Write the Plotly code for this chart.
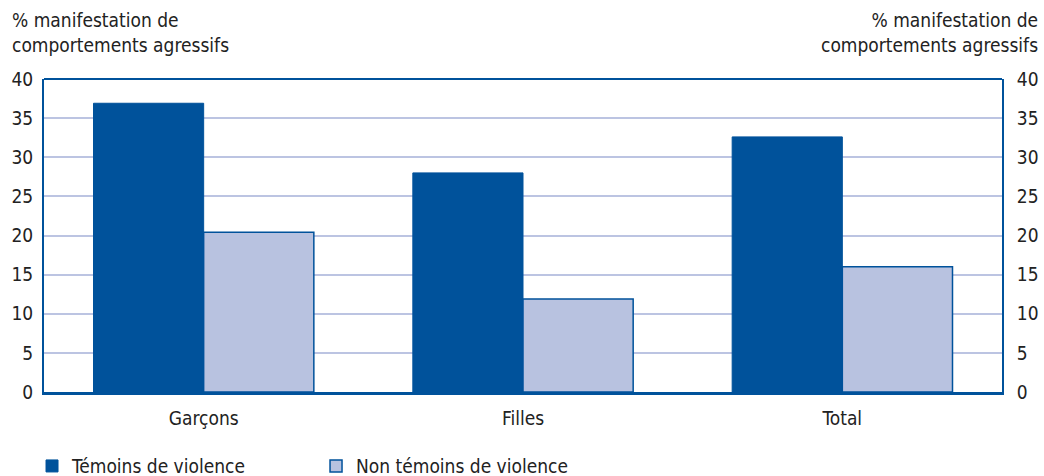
import plotly.graph_objects as go

categories = ["Garçons", "Filles", "Total"]
temoins = [36.9, 28.0, 32.6]
non_temoins = [20.4, 11.9, 16.0]
y_ticks = [0, 5, 10, 15, 20, 25, 30, 35, 40]
y_title = "% manifestation de<br>comportements agressifs"
series_names = ["Témoins de violence", "Non témoins de violence"]

FONT = "Liberation Sans Narrow, DejaVu Sans Condensed, Liberation Sans, sans-serif"
DARK = "#00529b"
LIGHT = "#b8c2e0"
GRID = "#bcc4e2"
TXT = "#222222"

fig = go.Figure()
fig.add_trace(go.Bar(x=categories, y=temoins, name=series_names[0],
                     marker=dict(color=DARK, line=dict(color=DARK, width=1))))
fig.add_trace(go.Bar(x=categories, y=non_temoins, name=series_names[1],
                     marker=dict(color=LIGHT, line=dict(color=DARK, width=1.5))))
# invisible trace to drive right axis
fig.add_trace(go.Scatter(x=categories, y=temoins, yaxis="y2", mode="markers",
                         marker=dict(opacity=0), showlegend=False, hoverinfo="skip"))

fig.update_layout(
    width=1044, height=476,
    margin=dict(l=44, r=42, t=79, b=84, autoexpand=False),
    paper_bgcolor="white", plot_bgcolor="white",
    barmode="group", bargap=0.31, bargroupgap=0,
    font=dict(family=FONT, size=19, color=TXT),
    xaxis=dict(showline=True, linecolor=DARK, linewidth=3, ticks="",
               tickfont=dict(size=19), showgrid=False, automargin=False,
               ticklabelstandoff=7),
    yaxis=dict(range=[0, 40], tickvals=y_ticks, showgrid=True, gridcolor=GRID,
               gridwidth=2, showline=True, linecolor=DARK, linewidth=2,
               ticks="", ticklabelstandoff=5, tickfont=dict(size=19),
               zeroline=False, fixedrange=True, automargin=False),
    yaxis2=dict(range=[0, 40], tickvals=y_ticks, overlaying="y", side="right",
                showgrid=False, showline=True, linecolor=DARK, linewidth=2,
                ticks="", ticklabelstandoff=9, tickfont=dict(size=19),
                zeroline=False, automargin=False),
    legend=dict(orientation="h", x=-0.0125, xanchor="left", y=-0.176, yanchor="top",
                entrywidth=239, entrywidthmode="pixels",
                font=dict(size=19), traceorder="normal"),
    shapes=[dict(type="line", xref="paper", yref="paper", x0=0, x1=1, y0=1, y1=1,
                 line=dict(color=DARK, width=2))],
    annotations=[
        dict(text=y_title, xref="paper", yref="paper", x=-0.0355, y=1.23,
             xanchor="left", yanchor="top", showarrow=False, align="left",
             font=dict(size=19, color=TXT)),
        dict(text=y_title, xref="paper", yref="paper", x=1.0397, y=1.23,
             xanchor="right", yanchor="top", showarrow=False, align="right",
             font=dict(size=19, color=TXT)),
    ],
)

fig.write_html("out.html", config={"displayModeBar": False},
               post_script="document.body.style.margin='0';")
